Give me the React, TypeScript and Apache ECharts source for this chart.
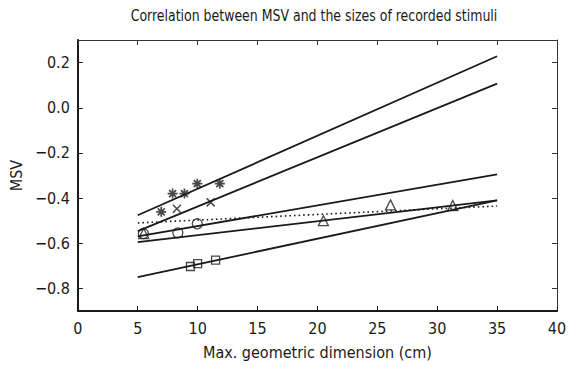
import React, { useEffect, useRef } from "react";
import * as echarts from "echarts";

const titleText = "Correlation between MSV and the sizes of recorded stimuli";
const xAxisName = "Max. geometric dimension (cm)";
const yAxisName = "MSV";
const yTickValues = [-0.8, -0.6, -0.4, -0.2, 0.0, 0.2];

// regression lines, evaluated at x = 5 and x = 35
const lineX = [5, 35];
const asteriskLine = [-0.476, 0.228];
const crossLine = [-0.546, 0.107];
const circleLine = [-0.57, -0.295];
const triangleLine = [-0.595, -0.41];
const squareLine = [-0.75, -0.41];
const dottedLine = [-0.51, -0.435];

// observed points
const asteriskX = [6.96, 7.91, 8.9, 9.97, 11.85];
const asteriskY = [-0.461, -0.38, -0.38, -0.336, -0.336];
const crossX = [8.27, 11.09];
const crossY = [-0.447, -0.419];
const circleX = [5.47, 8.35, 9.97];
const circleY = [-0.557, -0.554, -0.514];
const triangleX = [5.5, 20.5, 26.1, 31.3];
const triangleY = [-0.557, -0.5, -0.43, -0.433];
const squareX = [9.4, 10.0, 11.5];
const squareY = [-0.703, -0.69, -0.675];

const FONT = "'DejaVu Sans Condensed', 'Liberation Sans Narrow', sans-serif";
const INK = "#1a1a1a";

const ASTERISK = "path://M5 0L5 10M0 5L10 5M1.5 1.5L8.5 8.5M8.5 1.5L1.5 8.5";
const CROSS = "path://M0 0L10 10M10 0L0 10";

const pair = (xs: number[], ys: number[]) => xs.map((x, i) => [x, ys[i]]);

const fmt = (v: number) => (v < -1e-9 ? "\u2212" : "") + Math.abs(v).toFixed(1);

export default function App() {
  const ref = useRef<HTMLDivElement>(null);
  useEffect(() => {
    if (!ref.current) return;
    const chart = echarts.init(ref.current, undefined, { renderer: "svg" });
    const lineSeries = (ys: number[], dotted = false) => ({
      type: "line",
      data: pair(lineX, ys),
      showSymbol: false,
      symbol: "none",
      silent: true,
      lineStyle: { color: INK, width: dotted ? 1.6 : 1.8, type: dotted ? [1.6, 3] : "solid" },
      z: 2,
    });
    const scatterSeries = (xs: number[], ys: number[], symbol: string, size: number, bw = 1.3) => ({
      type: "scatter",
      data: pair(xs, ys),
      symbol,
      symbolSize: size,
      itemStyle: { color: "rgba(255,255,255,0)", borderColor: INK, borderWidth: bw },
      z: 3,
    });
    chart.setOption({
      animation: false,
      backgroundColor: "#ffffff",
      graphic: [
        {
          type: "text",
          x: 314,
          y: 16,
          scaleX: 0.87,
          style: {
            text: titleText,
            x: 0,
            y: 0,
            align: "center",
            verticalAlign: "middle",
            font: `16px ${FONT}`,
            fill: INK,
          },
        },
      ],
      grid: { left: 71, right: 13, top: 40, bottom: 43, containLabel: false },
      xAxis: [
        {
          type: "value",
          min: 0,
          max: 40,
          interval: 5,
          name: xAxisName,
          nameLocation: "middle",
          nameGap: 33,
          nameTextStyle: { fontFamily: FONT, fontSize: 16, color: INK },
          axisLine: { show: true, onZero: false, lineStyle: { color: INK, width: 2 } },
          axisTick: { show: true, inside: true, length: 5, lineStyle: { color: INK, width: 1 } },
          axisLabel: { fontFamily: FONT, fontSize: 16, color: INK, margin: 9 },
          splitLine: { show: false },
        },
        {
          type: "value",
          position: "top",
          min: 0,
          max: 40,
          interval: 5,
          axisLine: { show: true, onZero: false, lineStyle: { color: "#333", width: 1 } },
          axisTick: { show: true, inside: true, length: 5, lineStyle: { color: "#333", width: 1 } },
          axisLabel: { show: false },
          splitLine: { show: false },
        },
      ],
      yAxis: [
        {
          type: "value",
          min: -0.9,
          max: 0.3,
          name: yAxisName,
          nameLocation: "middle",
          nameGap: 50,
          nameRotate: 90,
          nameTextStyle: { fontFamily: FONT, fontSize: 16, color: INK },
          axisLine: { show: true, onZero: false, lineStyle: { color: INK, width: 2 } },
          axisTick: {
            show: true,
            inside: true,
            length: 5,
            customValues: yTickValues,
            lineStyle: { color: INK, width: 1 },
          },
          axisLabel: {
            fontFamily: FONT,
            fontSize: 16,
            color: INK,
            margin: 8,
            customValues: yTickValues,
            formatter: fmt,
          },
          splitLine: { show: false },
        },
        {
          type: "value",
          position: "right",
          min: -0.9,
          max: 0.3,
          axisLine: { show: true, onZero: false, lineStyle: { color: "#333", width: 1 } },
          axisTick: {
            show: true,
            inside: true,
            length: 5,
            customValues: yTickValues,
            lineStyle: { color: "#333", width: 1 },
          },
          axisLabel: { show: false },
          splitLine: { show: false },
        },
      ],
      series: [
        lineSeries(asteriskLine),
        lineSeries(crossLine),
        lineSeries(circleLine),
        lineSeries(triangleLine),
        lineSeries(squareLine),
        lineSeries(dottedLine, true),
        scatterSeries(asteriskX, asteriskY, ASTERISK, 10, 1.7),
        scatterSeries(crossX, crossY, CROSS, 8, 1.5),
        scatterSeries(circleX, circleY, "circle", 10),
        scatterSeries(triangleX, triangleY, "triangle", 10),
        scatterSeries(squareX, squareY, "rect", 8),
      ],
    });
    return () => chart.dispose();
  }, []);
  return (
    <div
      ref={ref}
      style={{ position: "absolute", left: 0, top: 0, width: 570, height: 365, background: "#fff" }}
    />
  );
}
